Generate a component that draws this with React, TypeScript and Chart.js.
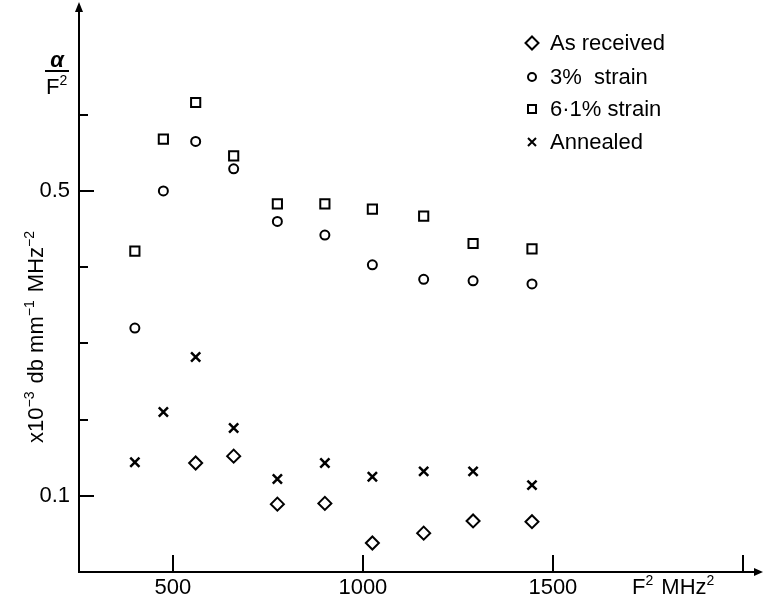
import React, { useEffect, useRef } from 'react';
import { Chart, registerables } from 'chart.js';

Chart.register(...registerables);

const fSquared = [400, 475, 560, 660, 775, 900, 1025, 1160, 1290, 1445];
const asReceivedX = [560, 660, 775, 900, 1025, 1160, 1290, 1445];
const asReceived = [0.143, 0.152, 0.089, 0.09, 0.038, 0.051, 0.067, 0.066];
const strain3 = [0.32, 0.5, 0.565, 0.529, 0.46, 0.442, 0.403, 0.384, 0.382, 0.378];
const strain61 = [0.421, 0.568, 0.616, 0.546, 0.483, 0.483, 0.476, 0.467, 0.431, 0.424];
const annealed = [0.144, 0.21, 0.282, 0.189, 0.122, 0.143, 0.125, 0.132, 0.132, 0.114];

const xTicks = [500, 1000, 1500, 2000];
const xTickLabels = ['500', '1000', '1500', ''];
const yTicks = [0.1, 0.2, 0.3, 0.4, 0.5, 0.6];
const yTickLabels = ['0.1', '', '', '', '0.5', ''];
const legendLabels = ['As received', '3%  strain', '6·1% strain', 'Annealed'];

const FONT = '"Liberation Sans", Arial, sans-serif';

type Part = { t: string; sup?: boolean };

function drawParts(ctx: CanvasRenderingContext2D, parts: Part[], x: number, y: number, size: number) {
  let cx = x;
  for (const p of parts) {
    const s = p.sup ? Math.round(size * 0.65) : size;
    ctx.font = `${s}px ${FONT}`;
    ctx.fillText(p.t, cx, p.sup ? y - size * 0.42 : y);
    cx += ctx.measureText(p.t).width + (p.sup ? 2 : 0);
  }
  return cx - x;
}

function measureParts(ctx: CanvasRenderingContext2D, parts: Part[], size: number) {
  let w = 0;
  for (const p of parts) {
    const s = p.sup ? Math.round(size * 0.65) : size;
    ctx.font = `${s}px ${FONT}`;
    w += ctx.measureText(p.t).width + (p.sup ? 2 : 0);
  }
  return w;
}

const decorPlugin = {
  id: 'decor',
  afterDraw(chart: any) {
    const ctx: CanvasRenderingContext2D = chart.ctx;
    const xs = chart.scales.x;
    const ys = chart.scales.y;
    const area = chart.chartArea;
    ctx.save();
    ctx.strokeStyle = '#000';
    ctx.fillStyle = '#000';
    ctx.lineWidth = 2;
    xTicks.forEach((v) => {
      const px = Math.round(xs.getPixelForValue(v));
      ctx.beginPath();
      ctx.moveTo(px, area.bottom);
      ctx.lineTo(px, area.bottom - 17);
      ctx.stroke();
    });
    yTicks.forEach((v, i) => {
      const py = Math.round(ys.getPixelForValue(v));
      const len = yTickLabels[i] ? 15 : 9;
      ctx.beginPath();
      ctx.moveTo(area.left, py);
      ctx.lineTo(area.left + len, py);
      ctx.stroke();
    });
    ctx.beginPath();
    ctx.moveTo(area.right + 3, area.bottom);
    ctx.lineTo(area.right - 6, area.bottom - 4);
    ctx.lineTo(area.right - 6, area.bottom + 4);
    ctx.closePath();
    ctx.fill();
    ctx.beginPath();
    ctx.moveTo(area.left, area.top - 6);
    ctx.lineTo(area.left - 4, area.top + 4);
    ctx.lineTo(area.left + 4, area.top + 4);
    ctx.closePath();
    ctx.fill();

    ctx.textAlign = 'left';
    ctx.textBaseline = 'alphabetic';
    drawParts(ctx, [{ t: 'F' }, { t: '2', sup: true }, { t: ' MHz' }, { t: '2', sup: true }], 632, 594, 22);

    const yParts: Part[] = [
      { t: 'x10' }, { t: '−3', sup: true }, { t: ' db mm' }, { t: '−1', sup: true }, { t: ' MHz' }, { t: '−2', sup: true },
    ];
    const w = measureParts(ctx, yParts, 22);
    ctx.save();
    ctx.translate(43, 336);
    ctx.rotate(-Math.PI / 2);
    drawParts(ctx, yParts, -w / 2, 0, 22);
    ctx.restore();

    ctx.font = `italic bold 22px ${FONT}`;
    ctx.textAlign = 'center';
    ctx.fillText('α', 57, 67);
    ctx.lineWidth = 2;
    ctx.beginPath();
    ctx.moveTo(45, 71);
    ctx.lineTo(69, 71);
    ctx.stroke();
    ctx.textAlign = 'left';
    drawParts(ctx, [{ t: 'F' }, { t: '2', sup: true }], 46, 94, 22);

    const lx = 532;
    const rows = [43, 77, 109, 142];
    ctx.lineWidth = 2;
    rows.forEach((cy, i) => {
      ctx.beginPath();
      if (i === 0) {
        ctx.moveTo(lx, cy - 6.5);
        ctx.lineTo(lx + 6.5, cy);
        ctx.lineTo(lx, cy + 6.5);
        ctx.lineTo(lx - 6.5, cy);
        ctx.closePath();
      } else if (i === 1) {
        ctx.arc(lx, cy, 4, 0, Math.PI * 2);
      } else if (i === 2) {
        ctx.rect(lx - 4, cy - 4, 8, 8);
      } else {
        ctx.moveTo(lx - 4, cy - 4);
        ctx.lineTo(lx + 4, cy + 4);
        ctx.moveTo(lx + 4, cy - 4);
        ctx.lineTo(lx - 4, cy + 4);
      }
      ctx.stroke();
      ctx.font = `22px ${FONT}`;
      ctx.textBaseline = 'middle';
      ctx.textAlign = 'left';
      ctx.fillText(legendLabels[i], 550, cy + 1);
    });
    ctx.restore();
  },
};

export default function App() {
  const ref = useRef<HTMLCanvasElement>(null);
  useEffect(() => {
    document.body.style.margin = '0';
    const ds = (xv: number[], yv: number[], style: string, radius: number, bw: number, label: string) => ({
      label,
      data: yv.map((y, i) => ({ x: xv[i], y })),
      pointStyle: style,
      pointRadius: radius,
      pointBorderWidth: bw,
      borderColor: '#000',
      backgroundColor: 'rgba(0,0,0,0)',
      showLine: false,
    });
    const chart = new Chart(ref.current!, {
      type: 'scatter',
      data: {
        datasets: [
          ds(asReceivedX, asReceived, 'rectRot', 6.5, 2, legendLabels[0]),
          ds(fSquared, strain3, 'circle', 4.5, 2, legendLabels[1]),
          ds(fSquared, strain61, 'rect', 6.5, 2, legendLabels[2]),
          ds(fSquared, annealed, 'crossRot', 6.5, 2.5, legendLabels[3]),
        ] as any,
      },
      options: {
        animation: false,
        responsive: true,
        maintainAspectRatio: false,
        layout: { autoPadding: false, padding: { top: 8, right: 3, left: 0, bottom: 0 } },
        plugins: { legend: { display: false }, tooltip: { enabled: false } },
        scales: {
          x: {
            type: 'linear',
            min: 253,
            max: 2045,
            afterFit: (s: any) => { s.height = 24; s.paddingLeft = 0; s.paddingRight = 0; },
            afterBuildTicks: (s: any) => { s.ticks = xTicks.map((v) => ({ value: v })); },
            grid: { display: false, drawTicks: false },
            border: { display: true, color: '#000', width: 2 },
            ticks: {
              padding: 3,
              color: '#000',
              font: { family: FONT, size: 22 },
              maxRotation: 0,
              autoSkip: false,
              callback: (v: any) => xTickLabels[xTicks.indexOf(Number(v))] ?? '',
            },
          },
          y: {
            type: 'linear',
            min: 0,
            max: 0.74,
            afterFit: (s: any) => { s.width = 79; s.paddingTop = 0; s.paddingBottom = 0; },
            afterBuildTicks: (s: any) => { s.ticks = yTicks.map((v) => ({ value: v })); },
            grid: { display: false, drawTicks: false },
            border: { display: true, color: '#000', width: 2 },
            ticks: {
              padding: 9,
              color: '#000',
              font: { family: FONT, size: 22 },
              autoSkip: false,
              callback: (v: any) => {
                const i = yTicks.findIndex((t) => Math.abs(t - Number(v)) < 1e-6);
                return i >= 0 ? yTickLabels[i] : '';
              },
            },
          },
        },
      },
      plugins: [decorPlugin],
    });
    return () => chart.destroy();
  }, []);
  return (
    <div style={{ position: 'fixed', left: 0, top: 0, width: 763, height: 596, background: '#fff' }}>
      <canvas ref={ref} />
    </div>
  );
}
